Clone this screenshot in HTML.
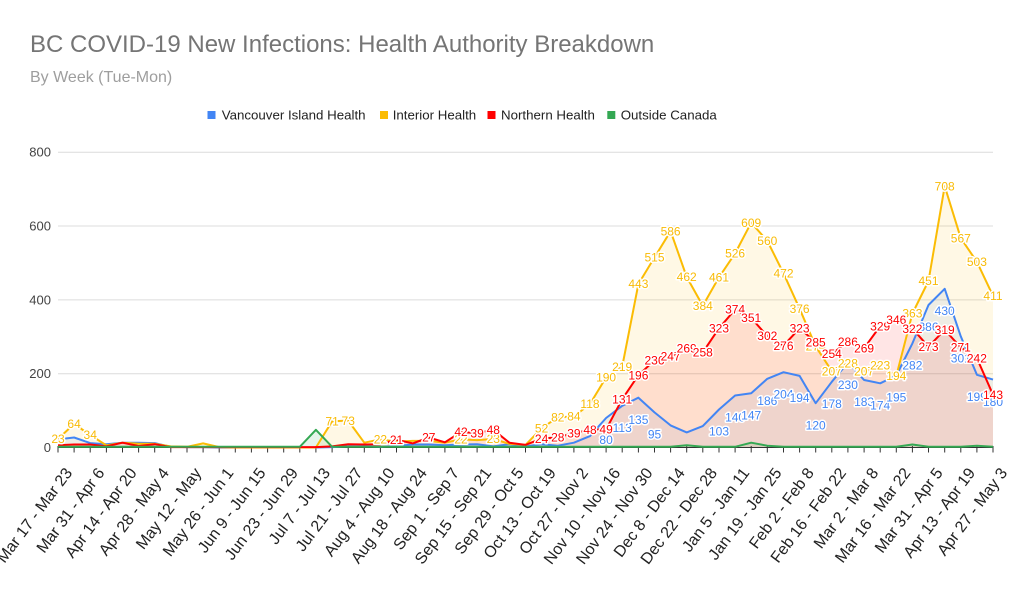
<!DOCTYPE html>
<html><head><meta charset="utf-8"><style>
html,body{margin:0;padding:0;background:#fff;}
svg{display:block;font-family:"Liberation Sans",Arial,sans-serif;}
.dl{font-size:12px;text-anchor:middle;paint-order:stroke;stroke:#fff;stroke-width:3px;stroke-linejoin:round;}
.b{fill:#4285f4}.y{fill:#f9bb06}.r{fill:#ff0000}
.xl{font-size:16px;fill:#222;text-anchor:end;}
.yl{font-size:13px;fill:#444;text-anchor:end;}
.lg{font-size:13.3px;fill:#222;}
</style></head><body>
<svg width="1023" height="596" viewBox="0 0 1023 596" xmlns="http://www.w3.org/2000/svg">
<rect width="1023" height="596" fill="#fff"/>
<text x="30" y="52" font-size="24" fill="#757575">BC COVID-19 New Infections: Health Authority Breakdown</text>
<text x="30" y="82" font-size="16" fill="#9e9e9e">By Week (Tue-Mon)</text>
<rect x="207.5" y="111" width="8" height="8" fill="#4285f4"/><text class="lg" x="221.7" y="119.7">Vancouver Island Health</text>
<rect x="380" y="111" width="8" height="8" fill="#fbbc04"/><text class="lg" x="392.7" y="119.7">Interior Health</text>
<rect x="487.5" y="111" width="8" height="8" fill="#ff0000"/><text class="lg" x="501" y="119.7">Northern Health</text>
<rect x="607.3" y="111" width="8" height="8" fill="#34a853"/><text class="lg" x="620.7" y="119.7">Outside Canada</text>
<g stroke="#dcdcdc" stroke-width="1">
<line x1="58" y1="152.2" x2="993" y2="152.2"/><line x1="58" y1="226" x2="993" y2="226"/><line x1="58" y1="299.9" x2="993" y2="299.9"/><line x1="58" y1="373.7" x2="993" y2="373.7"/>
</g>
<text class="yl" x="51" y="156.7">800</text><text class="yl" x="51" y="230.5">600</text><text class="yl" x="51" y="304.4">400</text><text class="yl" x="51" y="378.2">200</text><text class="yl" x="51" y="452">0</text>
<!-- fills -->
<path fill="#4285f4" fill-opacity="0.1" d="M58,447.5 L58,439.4 74.1,437.5 90.2,443.1 106.4,444.2 122.5,442.7 138.6,442.7 154.7,443.1 170.8,446.8 187.0,447.1 203.1,447.1 219.2,447.5 315.9,447.5 332.1,447.1 348.2,446.4 364.3,446.4 380.4,446.8 396.5,446.0 412.7,444.5 428.8,444.5 444.9,445.3 461.0,444.5 477.1,444.2 493.3,446.4 509.4,444.2 525.5,446.4 541.6,444.2 557.8,445.7 573.9,442.7 590.0,436.1 606.1,418.0 622.2,405.8 638.4,397.7 654.5,412.4 670.6,425.4 686.7,432.4 702.8,426.1 719.0,409.5 735.1,395.5 751.2,393.2 767.3,378.8 783.5,372.2 799.6,375.9 815.7,403.2 831.8,381.8 847.9,362.6 864.1,380.0 880.2,383.3 896.3,375.5 912.4,343.4 928.5,305.0 944.7,288.8 960.8,336.4 976.9,374.8 993.0,379.6 L993,447.5 Z"/>
<path fill="#fbbc04" fill-opacity="0.1" d="M58,447.5 L58,439.0 74.1,423.9 90.2,435.0 106.4,445.3 122.5,442.7 138.6,443.8 154.7,443.8 170.8,446.4 187.0,446.8 203.1,443.4 219.2,447.1 235.3,447.5 315.9,447.5 332.1,421.3 348.2,420.6 364.3,442.7 380.4,439.4 396.5,441.6 412.7,440.9 428.8,440.9 444.9,442.7 461.0,439.4 477.1,440.1 493.3,439.0 509.4,443.8 525.5,444.9 541.6,428.3 557.8,417.2 573.9,416.5 590.0,404.0 606.1,377.4 622.2,366.7 638.4,284.0 654.5,257.4 670.6,231.2 686.7,277.0 702.8,305.8 719.0,277.3 735.1,253.4 751.2,222.7 767.3,240.8 783.5,273.3 799.6,308.7 815.7,346.4 831.8,371.1 847.9,363.3 864.1,371.1 880.2,365.2 896.3,375.9 912.4,313.5 928.5,281.0 944.7,186.2 960.8,238.2 976.9,261.8 993.0,295.8 L993,447.5 Z"/>
<path fill="#ff0000" fill-opacity="0.1" d="M58,447.5 L58,445.3 74.1,444.5 90.2,444.5 106.4,446.4 122.5,442.7 138.6,446.0 154.7,444.2 170.8,447.1 315.9,447.1 332.1,446.4 348.2,444.2 364.3,444.5 380.4,444.2 396.5,439.7 412.7,443.4 428.8,437.5 444.9,442.3 461.0,432.0 477.1,433.1 493.3,429.8 509.4,442.7 525.5,444.9 541.6,438.6 557.8,437.2 573.9,433.1 590.0,429.8 606.1,429.4 622.2,399.2 638.4,375.2 654.5,360.4 670.6,356.3 686.7,348.2 702.8,352.3 719.0,328.3 735.1,309.5 751.2,318.0 767.3,336.0 783.5,345.6 799.6,328.3 815.7,342.3 831.8,353.8 847.9,341.9 864.1,348.2 880.2,326.1 896.3,319.8 912.4,328.6 928.5,346.7 944.7,329.8 960.8,347.5 976.9,358.2 993.0,394.7 L993,447.5 Z"/>
<path fill="#34a853" fill-opacity="0.12" d="M58,447.5 L58,446.8 299.8,446.8 315.9,429.8 332.1,446.8 670.6,446.8 686.7,445.3 702.8,446.8 735.1,446.8 751.2,442.7 767.3,445.7 783.5,446.8 896.3,446.8 912.4,444.5 928.5,446.8 960.8,446.8 976.9,445.7 993,446.8 L993,447.5 Z"/>
<!-- baseline & ticks -->
<line x1="58" y1="447.5" x2="993" y2="447.5" stroke="#333" stroke-width="1"/>
<path stroke="#333" stroke-width="1" fill="none" d="M58,446V452.5M74.1,446V452.5M90.2,446V452.5M106.4,446V452.5M122.5,446V452.5M138.6,446V452.5M154.7,446V452.5M170.8,446V452.5M187,446V452.5M203.1,446V452.5M219.2,446V452.5M235.3,446V452.5M251.4,446V452.5M267.6,446V452.5M283.7,446V452.5M299.8,446V452.5M315.9,446V452.5M332.1,446V452.5M348.2,446V452.5M364.3,446V452.5M380.4,446V452.5M396.5,446V452.5M412.7,446V452.5M428.8,446V452.5M444.9,446V452.5M461,446V452.5M477.1,446V452.5M493.3,446V452.5M509.4,446V452.5M525.5,446V452.5M541.6,446V452.5M557.8,446V452.5M573.9,446V452.5M590,446V452.5M606.1,446V452.5M622.2,446V452.5M638.4,446V452.5M654.5,446V452.5M670.6,446V452.5M686.7,446V452.5M702.8,446V452.5M719,446V452.5M735.1,446V452.5M751.2,446V452.5M767.3,446V452.5M783.5,446V452.5M799.6,446V452.5M815.7,446V452.5M831.8,446V452.5M847.9,446V452.5M864.1,446V452.5M880.2,446V452.5M896.3,446V452.5M912.4,446V452.5M928.5,446V452.5M944.7,446V452.5M960.8,446V452.5M976.9,446V452.5M993,446V452.5"/>
<!-- lines -->
<g fill="none" stroke-width="2" stroke-linejoin="round">
<polyline stroke="#4285f4" points="58,439.4 74.1,437.5 90.2,443.1 106.4,444.2 122.5,442.7 138.6,442.7 154.7,443.1 170.8,446.8 187.0,447.1 203.1,447.1 219.2,447.5 315.9,447.5 332.1,447.1 348.2,446.4 364.3,446.4 380.4,446.8 396.5,446.0 412.7,444.5 428.8,444.5 444.9,445.3 461.0,444.5 477.1,444.2 493.3,446.4 509.4,444.2 525.5,446.4 541.6,444.2 557.8,445.7 573.9,442.7 590.0,436.1 606.1,418.0 622.2,405.8 638.4,397.7 654.5,412.4 670.6,425.4 686.7,432.4 702.8,426.1 719.0,409.5 735.1,395.5 751.2,393.2 767.3,378.8 783.5,372.2 799.6,375.9 815.7,403.2 831.8,381.8 847.9,362.6 864.1,380.0 880.2,383.3 896.3,375.5 912.4,343.4 928.5,305.0 944.7,288.8 960.8,336.4 976.9,374.8 993.0,379.6"/>
<polyline stroke="#fbbc04" points="58,439.0 74.1,423.9 90.2,435.0 106.4,445.3 122.5,442.7 138.6,443.8 154.7,443.8 170.8,446.4 187.0,446.8 203.1,443.4 219.2,447.1 235.3,447.5 315.9,447.5 332.1,421.3 348.2,420.6 364.3,442.7 380.4,439.4 396.5,441.6 412.7,440.9 428.8,440.9 444.9,442.7 461.0,439.4 477.1,440.1 493.3,439.0 509.4,443.8 525.5,444.9 541.6,428.3 557.8,417.2 573.9,416.5 590.0,404.0 606.1,377.4 622.2,366.7 638.4,284.0 654.5,257.4 670.6,231.2 686.7,277.0 702.8,305.8 719.0,277.3 735.1,253.4 751.2,222.7 767.3,240.8 783.5,273.3 799.6,308.7 815.7,346.4 831.8,371.1 847.9,363.3 864.1,371.1 880.2,365.2 896.3,375.9 912.4,313.5 928.5,281.0 944.7,186.2 960.8,238.2 976.9,261.8 993.0,295.8"/>
<polyline stroke="#ff0000" points="58,445.3 74.1,444.5 90.2,444.5 106.4,446.4 122.5,442.7 138.6,446.0 154.7,444.2 170.8,447.1 315.9,447.1 332.1,446.4 348.2,444.2 364.3,444.5 380.4,444.2 396.5,439.7 412.7,443.4 428.8,437.5 444.9,442.3 461.0,432.0 477.1,433.1 493.3,429.8 509.4,442.7 525.5,444.9 541.6,438.6 557.8,437.2 573.9,433.1 590.0,429.8 606.1,429.4 622.2,399.2 638.4,375.2 654.5,360.4 670.6,356.3 686.7,348.2 702.8,352.3 719.0,328.3 735.1,309.5 751.2,318.0 767.3,336.0 783.5,345.6 799.6,328.3 815.7,342.3 831.8,353.8 847.9,341.9 864.1,348.2 880.2,326.1 896.3,319.8 912.4,328.6 928.5,346.7 944.7,329.8 960.8,347.5 976.9,358.2 993.0,394.7"/>
<polyline stroke="#34a853" points="58,446.8 299.8,446.8 315.9,429.8 332.1,446.8 670.6,446.8 686.7,445.3 702.8,446.8 735.1,446.8 751.2,442.7 767.3,445.7 783.5,446.8 896.3,446.8 912.4,444.5 928.5,446.8 960.8,446.8 976.9,445.7 993,446.8"/>
</g>
<!-- blue labels -->
<g class="dl b">
<text x="606.1" y="444.2">80</text><text x="622.2" y="432.0">113</text><text x="638.4" y="423.9">135</text><text x="654.5" y="438.6">95</text><text x="719.0" y="435.7">103</text><text x="735.1" y="421.7">140</text><text x="751.2" y="419.4">147</text><text x="767.3" y="405.0">186</text><text x="783.5" y="398.4">204</text><text x="799.6" y="402.1">194</text><text x="815.7" y="429.4">120</text><text x="831.8" y="408.0">178</text><text x="847.9" y="388.8">230</text><text x="864.1" y="406.2">183</text><text x="880.2" y="409.5">174</text><text x="896.3" y="401.7">195</text><text x="912.4" y="369.6">282</text><text x="928.5" y="331.2">386</text><text x="944.7" y="315.0">430</text><text x="960.8" y="362.6">301</text><text x="976.9" y="401.0">199</text><text x="993.0" y="405.8">180</text>
</g>
<!-- yellow labels -->
<g class="dl y">
<text x="58" y="443.2">23</text><text x="74.1" y="428.1">64</text><text x="90.2" y="439.2">34</text><text x="332.1" y="425.5">71</text><text x="348.2" y="424.8">73</text><text x="380.4" y="443.6">22</text><text x="461.0" y="443.6">22</text><text x="493.3" y="443.2">23</text><text x="541.6" y="432.5">52</text><text x="557.8" y="421.4">82</text><text x="573.9" y="420.7">84</text><text x="590.0" y="408.2">118</text><text x="606.1" y="381.6">190</text><text x="622.2" y="370.9">219</text><text x="638.4" y="288.2">443</text><text x="654.5" y="261.6">515</text><text x="670.6" y="235.4">586</text><text x="686.7" y="281.2">462</text><text x="702.8" y="310.0">384</text><text x="719.0" y="281.5">461</text><text x="735.1" y="257.6">526</text><text x="751.2" y="226.9">609</text><text x="767.3" y="245.0">560</text><text x="783.5" y="277.5">472</text><text x="799.6" y="312.9">376</text><text x="815.7" y="350.6">274</text><text x="831.8" y="375.3">207</text><text x="847.9" y="367.5">228</text><text x="864.1" y="375.3">207</text><text x="880.2" y="369.4">223</text><text x="896.3" y="380.1">194</text><text x="912.4" y="317.7">363</text><text x="928.5" y="285.2">451</text><text x="944.7" y="190.4">708</text><text x="960.8" y="242.4">567</text><text x="976.9" y="266.0">503</text><text x="993.0" y="300.0">411</text>
</g>
<!-- red labels -->
<g class="dl r">
<text x="396.5" y="443.9">21</text><text x="428.8" y="441.7">27</text><text x="461.0" y="436.2">42</text><text x="477.1" y="437.3">39</text><text x="493.3" y="434.0">48</text><text x="541.6" y="442.8">24</text><text x="557.8" y="441.4">28</text><text x="573.9" y="437.3">39</text><text x="590.0" y="434.0">48</text><text x="606.1" y="433.6">49</text><text x="622.2" y="403.4">131</text><text x="638.4" y="379.4">196</text><text x="654.5" y="364.6">236</text><text x="670.6" y="360.5">247</text><text x="686.7" y="352.4">269</text><text x="702.8" y="356.5">258</text><text x="719.0" y="332.5">323</text><text x="735.1" y="313.7">374</text><text x="751.2" y="322.2">351</text><text x="767.3" y="340.2">302</text><text x="783.5" y="349.8">276</text><text x="799.6" y="332.5">323</text><text x="815.7" y="346.5">285</text><text x="831.8" y="358.0">254</text><text x="847.9" y="346.1">286</text><text x="864.1" y="352.4">269</text><text x="880.2" y="330.3">329</text><text x="896.3" y="324.0">346</text><text x="912.4" y="332.8">322</text><text x="928.5" y="350.9">273</text><text x="944.7" y="334.0">319</text><text x="960.8" y="351.7">271</text><text x="976.9" y="362.4">242</text><text x="993.0" y="398.9">143</text>
</g>
<!-- x labels -->
<g class="xl">
<text transform="translate(73,473) rotate(-53)">Mar 17 - Mar 23</text>
<text transform="translate(105.2,473) rotate(-53)">Mar 31 - Apr 6</text>
<text transform="translate(137.5,473) rotate(-53)">Apr 14 - Apr 20</text>
<text transform="translate(169.7,473) rotate(-53)">Apr 28 - May 4</text>
<text transform="translate(202,473) rotate(-53)">May 12 - May</text>
<text transform="translate(234.2,473) rotate(-53)">May 26 - Jun 1</text>
<text transform="translate(266.4,473) rotate(-53)">Jun 9 - Jun 15</text>
<text transform="translate(298.7,473) rotate(-53)">Jun 23 - Jun 29</text>
<text transform="translate(330.9,473) rotate(-53)">Jul 7 - Jul 13</text>
<text transform="translate(363.2,473) rotate(-53)">Jul 21 - Jul 27</text>
<text transform="translate(395.4,473) rotate(-53)">Aug 4 - Aug 10</text>
<text transform="translate(427.7,473) rotate(-53)">Aug 18 - Aug 24</text>
<text transform="translate(459.9,473) rotate(-53)">Sep 1 - Sep 7</text>
<text transform="translate(492.1,473) rotate(-53)">Sep 15 - Sep 21</text>
<text transform="translate(524.4,473) rotate(-53)">Sep 29 - Oct 5</text>
<text transform="translate(556.6,473) rotate(-53)">Oct 13 - Oct 19</text>
<text transform="translate(588.9,473) rotate(-53)">Oct 27 - Nov 2</text>
<text transform="translate(621.1,473) rotate(-53)">Nov 10 - Nov 16</text>
<text transform="translate(653.4,473) rotate(-53)">Nov 24 - Nov 30</text>
<text transform="translate(685.6,473) rotate(-53)">Dec 8 - Dec 14</text>
<text transform="translate(717.8,473) rotate(-53)">Dec 22 - Dec 28</text>
<text transform="translate(750.1,473) rotate(-53)">Jan 5 - Jan 11</text>
<text transform="translate(782.3,473) rotate(-53)">Jan 19 - Jan 25</text>
<text transform="translate(814.6,473) rotate(-53)">Feb 2 - Feb 8</text>
<text transform="translate(846.8,473) rotate(-53)">Feb 16 - Feb 22</text>
<text transform="translate(879.1,473) rotate(-53)">Mar 2 - Mar 8</text>
<text transform="translate(911.3,473) rotate(-53)">Mar 16 - Mar 22</text>
<text transform="translate(943.5,473) rotate(-53)">Mar 31 - Apr 5</text>
<text transform="translate(975.8,473) rotate(-53)">Apr 13 - Apr 19</text>
<text transform="translate(1008,473) rotate(-53)">Apr 27 - May 3</text>
</g>
</svg>
</body></html>
